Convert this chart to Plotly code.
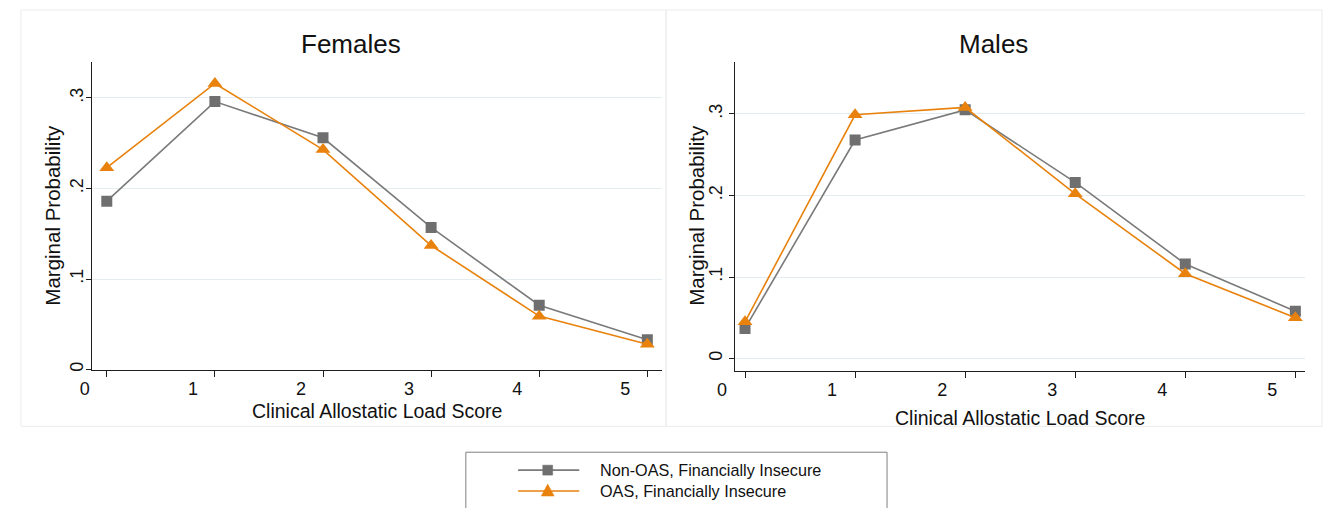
import plotly.graph_objects as go

# Marginal probabilities by clinical allostatic load score
scores = [0, 1, 2, 3, 4, 5]
score_labels = ["0", "1", "2", "3", "4", "5"]

female_non_oas = [0.186, 0.296, 0.256, 0.157, 0.071, 0.033]
female_oas = [0.223, 0.316, 0.243, 0.137, 0.059, 0.028]
male_non_oas = [0.037, 0.268, 0.305, 0.216, 0.116, 0.058]
male_oas = [0.045, 0.299, 0.308, 0.202, 0.104, 0.050]

prob_ticks = [0, 0.1, 0.2, 0.3]
prob_labels = ["0", ".1", ".2", ".3"]

series_names = ["Non-OAS, Financially Insecure", "OAS, Financially Insecure"]
panel_titles = ["Females", "Males"]
x_title = "Clinical Allostatic Load Score"
y_title = "Marginal Probability"

W, H = 1325, 508
FONT = "Liberation Sans, Arial, Helvetica, sans-serif"
GRAY_MARK = "#6f6f6f"
GRAY_LINE = "#7a7a7a"
ORANGE = "#e8820c"
GRID = "#e4ecef"
AXIS = "#1e1e1e"
TEXT = "#111111"


def px_x(p):
    return p / W


def px_y(p):
    return 1 - p / H


fig = go.Figure()

panels = [
    ("x", "y", female_non_oas, female_oas),
    ("x2", "y2", male_non_oas, male_oas),
]
for xa, ya, non_oas, oas in panels:
    fig.add_trace(go.Scatter(
        x=scores, y=non_oas, xaxis=xa, yaxis=ya, mode="lines+markers",
        name=series_names[0], showlegend=False,
        line=dict(color=GRAY_LINE, width=1.6),
        marker=dict(symbol="square", size=11, color=GRAY_MARK),
    ))
    fig.add_trace(go.Scatter(
        x=scores, y=oas, xaxis=xa, yaxis=ya, mode="lines+markers",
        name=series_names[1], showlegend=False,
        line=dict(color=ORANGE, width=1.6),
        marker=dict(symbol="triangle-up", size=13, color=ORANGE),
    ))


def x_axis(domain, rng, shift, anchor):
    return dict(
        domain=domain, range=rng, anchor=anchor, tickmode="array",
        tickvals=scores, ticktext=score_labels, ticks="outside", ticklen=6,
        tickcolor=AXIS, tickwidth=1, showline=True, linecolor=AXIS,
        linewidth=1, showgrid=False, zeroline=False, ticklabelshift=shift,
        ticklabelstandoff=-3,
        tickfont=dict(family=FONT, size=18, color=TEXT),
    )


def y_axis(domain, rng, anchor, standoff):
    return dict(
        domain=domain, range=rng, anchor=anchor, tickmode="array",
        tickvals=prob_ticks, ticktext=prob_labels, tickangle=-90,
        ticks="outside", ticklen=5, tickcolor=AXIS, tickwidth=1,
        showline=True, linecolor=AXIS, linewidth=1,
        showgrid=True, gridcolor=GRID, gridwidth=1.2, zeroline=False,
        ticklabelstandoff=standoff,
        tickfont=dict(family=FONT, size=18, color=TEXT),
    )


# panel geometry in pixels: (left, right, top, bottom)
left_box = (75, 653, 62, 371)
right_box = (727, 1305, 62, 372)

annotations = []
for box, title, xt_y, yt_x in [(left_box, panel_titles[0], 413, 35),
                               (right_box, panel_titles[1], 420, 687)]:
    l, r, t, b = box
    annotations.append(dict(
        text=title, x=px_x({75: 338, 727: 989}[l]), y=px_y(44),
        xref="paper", yref="paper", showarrow=False,
        xanchor="center", yanchor="middle",
        font=dict(family=FONT, size=26, color=TEXT)))
    annotations.append(dict(
        text=x_title, x=px_x((l + r) / 2), y=px_y(xt_y),
        xref="paper", yref="paper", showarrow=False,
        xanchor="center", yanchor="middle",
        font=dict(family=FONT, size=19.5, color=TEXT)))
    annotations.append(dict(
        text=y_title, x=px_x(yt_x), y=px_y(216), textangle=-90,
        xref="paper", yref="paper", showarrow=False,
        xanchor="center", yanchor="middle",
        font=dict(family=FONT, size=20.5, color=TEXT)))

# legend rows: sample line, marker glyph and label
legend_rows = [
    (472, GRAY_LINE, GRAY_MARK, "square", series_names[0]),
    (493, ORANGE, ORANGE, "triangle", series_names[1]),
]
shapes = [
    dict(type="rect", xref="paper", yref="paper",
         x0=px_x(3), x1=px_x(657), y0=px_y(428), y1=px_y(10),
         line=dict(color="#ececec", width=1)),
    dict(type="rect", xref="paper", yref="paper",
         x0=px_x(657), x1=px_x(1322), y0=px_y(428), y1=px_y(10),
         line=dict(color="#ececec", width=1)),
    dict(type="rect", xref="paper", yref="paper",
         x0=px_x(454), x1=px_x(881), y0=px_y(530), y1=px_y(454),
         line=dict(color="#808080", width=1)),
]
cx = 537
for ry, lc, mc, sym, label in legend_rows:
    shapes.append(dict(type="line", xref="paper", yref="paper",
                       x0=px_x(507), x1=px_x(569), y0=px_y(ry), y1=px_y(ry),
                       line=dict(color=lc, width=1.6)))
    if sym == "square":
        pts = [(cx - 5, ry - 5), (cx + 5, ry - 5), (cx + 5, ry + 5), (cx - 5, ry + 5)]
    else:
        pts = [(cx, ry - 7), (cx + 6.5, ry + 5), (cx - 6.5, ry + 5)]
    path = "M" + " L".join(f"{px_x(a):.5f},{px_y(b):.5f}" for a, b in pts) + " Z"
    shapes.append(dict(type="path", xref="paper", yref="paper", path=path,
                       fillcolor=mc, line=dict(color=mc, width=0.5)))
    annotations.append(dict(
        text=label, x=px_x(588), y=px_y(ry), xref="paper", yref="paper",
        showarrow=False, xanchor="left", yanchor="middle",
        font=dict(family=FONT, size=16.2, color=TEXT)))

fig.update_layout(
    width=W, height=H,
    margin=dict(l=0, r=0, t=0, b=0),
    paper_bgcolor="white", plot_bgcolor="white",
    font=dict(family=FONT, color=TEXT),
    showlegend=False,
    xaxis=x_axis([px_x(left_box[0]), px_x(left_box[1])], [-0.137, 5.137], -22, "y"),
    yaxis=y_axis([px_y(left_box[3]), px_y(left_box[2])], [0, 0.34], "x", -4),
    xaxis2=x_axis([px_x(right_box[0]), px_x(right_box[1])], [-0.09, 5.09], -23, "y2"),
    yaxis2=y_axis([px_y(right_box[3]), px_y(right_box[2])], [-0.0147, 0.364], "x2", 0),
    annotations=annotations,
    shapes=shapes,
)

fig.write_html(
    "out.html",
    post_script="document.body.style.margin='0';",
)
